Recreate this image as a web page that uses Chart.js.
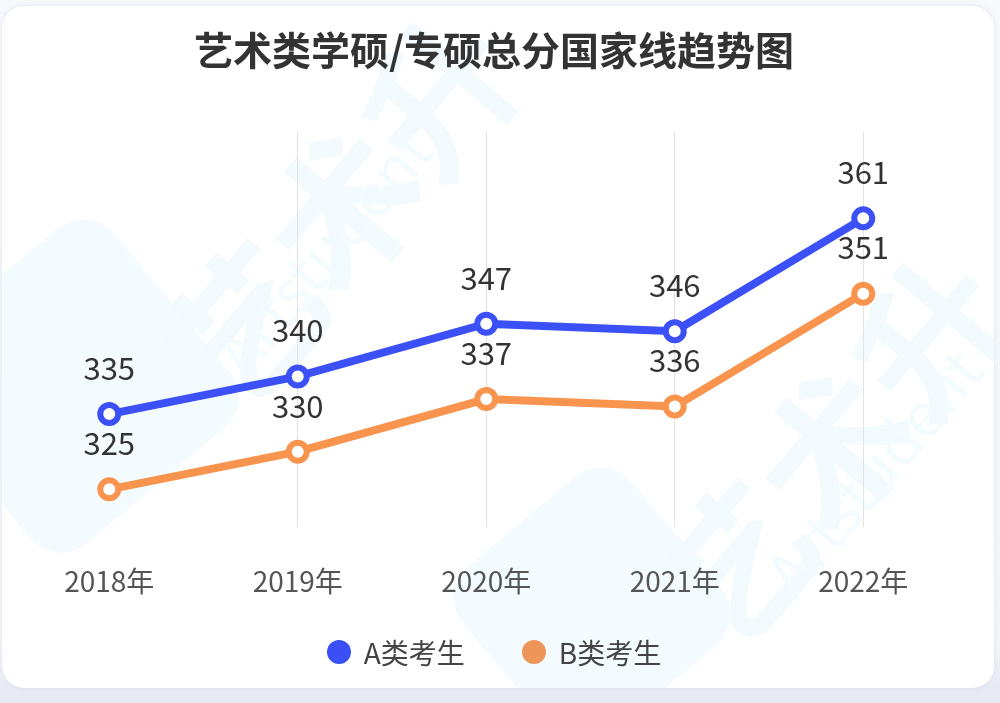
<!DOCTYPE html>
<html>
<head>
<meta charset="utf-8">
<script src="https://cdn.jsdelivr.net/npm/chart.js@4/dist/chart.umd.min.js"></script>
<style>
  html, body { margin: 0; padding: 0; }
  body {
    width: 1000px; height: 703px; overflow: hidden; position: relative;
    background: linear-gradient(#f7f8fc 0, #f4f6fa 640px, #e7eaf3 690px);
    font-family: "Noto Sans CJK SC", "Noto Sans", sans-serif;
  }
  .card {
    position: absolute; left: 2px; top: 6px; width: 992px; height: 682px;
    background: #fff; border-radius: 22px; overflow: hidden;
    box-shadow: 0 0 4px rgba(200, 208, 225, 0.5);
  }
  .wm { position: absolute; color: #f2fafd; white-space: nowrap; font-weight: bold; }
  .wm.en { font-weight: normal; color: #f3fbfe; }
  .logo { position: absolute; background: #f4fbfe; border-radius: 40px; }
  #wrap { position: absolute; left: 0; top: 0; width: 1000px; height: 703px; }
  #legend {
    position: absolute; left: 0; width: 988px; top: 632px;
    display: flex; justify-content: center; gap: 57px;
    font-size: 28px; color: #444; line-height: 40px;
  }
  #legend .item { display: flex; align-items: center; }
  #legend .dot { width: 24px; height: 24px; border-radius: 50%; margin-right: 13px; }
</style>
</head>
<body>
<div class="card">
  <div class="logo" style="left:-60px;top:250px;width:260px;height:260px;transform:rotate(-40deg)"></div>
  <div class="wm" style="left:110px;top:90px;font-size:150px;transform:rotate(-50deg)">艺术升</div>
  <div class="wm en" style="left:170px;top:200px;font-size:60px;transform:rotate(-50deg)">Artstudent</div>
  <div class="logo" style="left:480px;top:490px;width:220px;height:220px;transform:rotate(-40deg)"></div>
  <div class="wm" style="left:600px;top:330px;font-size:150px;transform:rotate(-50deg)">艺术升</div>
  <div class="wm en" style="left:720px;top:420px;font-size:60px;transform:rotate(-50deg)">Artstudent</div>
</div>
<div id="wrap"><canvas id="chart" width="1000" height="703"></canvas></div>
<div id="legend"></div>
<script>
const years = ['2018年', '2019年', '2020年', '2021年', '2022年'];
const scoresA = [335, 340, 347, 346, 361];
const scoresB = [325, 330, 337, 336, 351];
const seriesNames = ['A类考生', 'B类考生'];
const seriesColors = ['#3b50f7', '#f9944f'];
const legendColors = ['#3a4ff6', '#ee965a'];

// value labels above each point
const valueLabels = {
  id: 'valueLabels',
  afterDatasetsDraw(chart) {
    const ctx = chart.ctx;
    ctx.save();
    ctx.font = '31px "Noto Sans CJK SC", "Noto Sans", sans-serif';
    ctx.fillStyle = '#333';
    ctx.textAlign = 'center';
    ctx.textBaseline = 'middle';
    chart.data.datasets.forEach((ds, i) => {
      chart.getDatasetMeta(i).data.forEach((pt, j) => {
        ctx.fillText(String(ds.data[j]), pt.x, pt.y - 46);
      });
    });
    ctx.restore();
  }
};

const chart = new Chart(document.getElementById('chart'), {
  type: 'line',
  data: {
    labels: years,
    datasets: [
      {
        label: seriesNames[0],
        data: scoresA,
        borderColor: seriesColors[0],
        backgroundColor: seriesColors[0],
        borderWidth: 8,
        pointRadius: 9,
        pointBorderWidth: 6,
        pointBackgroundColor: '#fff',
        pointBorderColor: seriesColors[0],
        tension: 0
      },
      {
        label: seriesNames[1],
        data: scoresB,
        borderColor: seriesColors[1],
        backgroundColor: seriesColors[1],
        borderWidth: 8,
        pointRadius: 9,
        pointBorderWidth: 6,
        pointBackgroundColor: '#fff',
        pointBorderColor: seriesColors[1],
        tension: 0
      }
    ]
  },
  options: {
    responsive: false,
    animation: false,
    layout: { padding: { left: 0, right: 12, top: 0, bottom: 96 } },
    plugins: {
      legend: { display: false },
      tooltip: { enabled: false },
      title: {
        display: true,
        text: '艺术类学硕/专硕总分国家线趋势图',
        color: '#333',
        font: { family: '"Noto Sans CJK SC", sans-serif', size: 39, weight: 'bold' },
        padding: { top: 27, bottom: 58 }
      }
    },
    scales: {
      x: {
        offset: true,
        border: { display: false },
        grid: {
          offset: false,
          drawTicks: false,
          color: (c) => c.index === 0 ? 'rgba(0,0,0,0)' : '#e3e3e3',
          lineWidth: 1
        },
        ticks: {
          padding: 38,
          color: '#555',
          font: { family: '"Noto Sans CJK SC", sans-serif', size: 28 }
        },
        afterFit(scale) { scale.height = 80; }
      },
      y: {
        min: 320,
        max: 372.5,
        grid: { display: false },
        border: { display: false },
        ticks: { display: false },
        afterFit(scale) { scale.width = 12.5; }
      },
      y2: {
        type: 'linear',
        position: 'right',
        grid: { display: false },
        border: { display: false },
        ticks: { display: false },
        afterFit(scale) { scale.width = 30.5; }
      }
    }
  },
  plugins: [valueLabels]
});

// html legend built from the chart datasets
document.getElementById('legend').innerHTML = chart.data.datasets.map((ds, i) =>
  '<div class="item"><span class="dot" style="background:' + legendColors[i] + '"></span>' + ds.label + '</div>'
).join('');
</script>
</body>
</html>
